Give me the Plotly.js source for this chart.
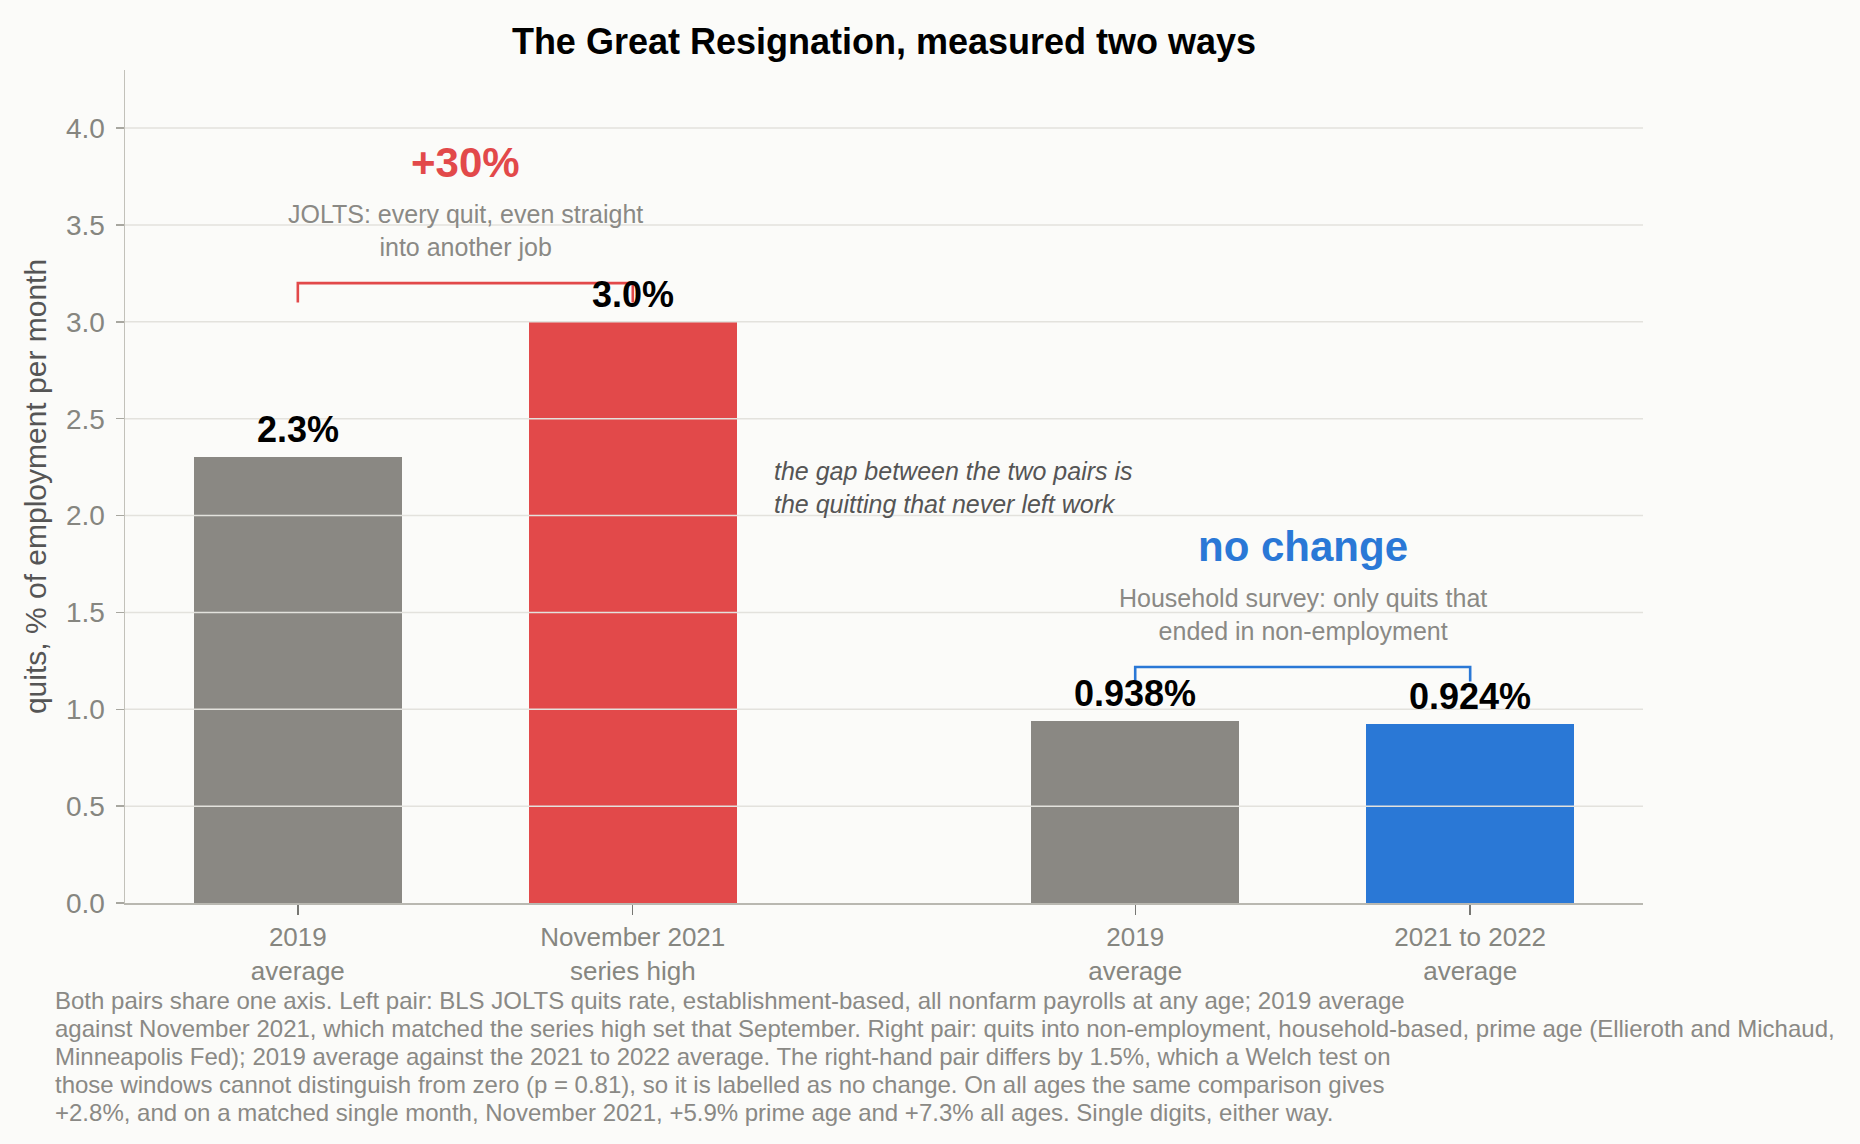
<!DOCTYPE html>
<html>
<head>
<meta charset="utf-8">
<script src="https://cdn.plot.ly/plotly-3.0.1.min.js"></script>
<style>
  html, body { margin: 0; padding: 0; background: #fbfbf9; }
  #chart { width: 1860px; height: 1144px; }
</style>
</head>
<body>
<div id="chart"></div>
<script>
// ---- data ----
const categories = ["2019<br>average", "November 2021<br>series high", "2019<br>average", "2021 to 2022<br>average"];
const pairIndex = [0, 0, 1, 1];
const withinPair = [0, 1, 0, 1];
const values = [2.3, 3.0, 0.938, 0.924];
const valueLabels = ["2.3%", "3.0%", "0.938%", "0.924%"];
const yTickValues = [0, 0.5, 1.0, 1.5, 2.0, 2.5, 3.0, 3.5, 4.0];
const yTickLabels = ["0.0", "0.5", "1.0", "1.5", "2.0", "2.5", "3.0", "3.5", "4.0"];
const pairHeadlines = ["+30%", "no change"];
const pairNotes = ["JOLTS: every quit, even straight<br>into another job",
                   "Household survey: only quits that<br>ended in non-employment"];
const gapNote = "the gap between the two pairs is<br>the quitting that never left work";
const titleText = "The Great Resignation, measured two ways";
const yTitle = "quits, % of employment per month";
const footnoteLines = [
  "Both pairs share one axis. Left pair: BLS JOLTS quits rate, establishment-based, all nonfarm payrolls at any age; 2019 average",
  "against November 2021, which matched the series high set that September. Right pair: quits into non-employment, household-based, prime age (Ellieroth and Michaud,",
  "Minneapolis Fed); 2019 average against the 2021 to 2022 average. The right-hand pair differs by 1.5%, which a Welch test on",
  "those windows cannot distinguish from zero (p = 0.81), so it is labelled as no change. On all ages the same comparison gives",
  "+2.8%, and on a matched single month, November 2021, +5.9% prime age and +7.3% all ages. Single digits, either way."
];

// ---- style ----
const GRAY = "#8a8883", RED = "#e2494a", BLUE = "#2a78d6";
const barColors = [GRAY, RED, GRAY, BLUE];
const pairColors = [RED, BLUE];
const FONT = "Liberation Sans, Arial, Helvetica, sans-serif";
const PAIR_GAP = 2.5;
const PLOT_TOP = 70, PLOT_H = 833;

const xPos = pairIndex.map((p, i) => p * PAIR_GAP + withinPair[i]);

const trace = {
  type: "bar",
  x: xPos,
  y: values,
  width: 0.62,
  marker: { color: barColors, line: { width: 0 } },
  hoverinfo: "skip",
  showlegend: false
};

const shapes = [];
// gridlines drawn above bars
yTickValues.filter(v => v > 0).forEach(v => {
  shapes.push({ type: "line", xref: "paper", x0: 0, x1: 1, yref: "y", y0: v, y1: v,
    layer: "above", line: { color: "#e3e2dd", width: 1.5 } });
});
// brackets
[0, 1].forEach(p => {
  const idx = pairIndex.map((q, i) => q === p ? i : -1).filter(i => i >= 0);
  const xa = xPos[idx[0]], xb = xPos[idx[1]];
  const top = Math.max(values[idx[0]], values[idx[1]]);
  const yTop = top + (p === 0 ? 0.20 : 0.28);
  const yLeg = yTop - (p === 0 ? 0.10 : 0.075);
  shapes.push({ type: "path", xref: "x", yref: "y", layer: "above",
    path: `M ${xa},${yLeg} L ${xa},${yTop} L ${xb},${yTop} L ${xb},${yLeg}`,
    line: { color: pairColors[p], width: 2.6 } });
});

const annotations = [];
// value labels
values.forEach((v, i) => {
  annotations.push({ x: xPos[i], y: v, xref: "x", yref: "y", text: valueLabels[i],
    showarrow: false, xanchor: "center", yanchor: "bottom", yshift: 5,
    font: { family: FONT, size: 36, color: "#000000", weight: "bold" } });
});
// pair headlines and notes
const headY = [3.82, 1.84];
const noteY = [3.47, 1.49];
[0, 1].forEach(p => {
  const idx = pairIndex.map((q, i) => q === p ? i : -1).filter(i => i >= 0);
  const xm = (xPos[idx[0]] + xPos[idx[1]]) / 2;
  annotations.push({ x: xm, y: headY[p], xref: "x", yref: "y", text: "<b>" + pairHeadlines[p] + "</b>",
    showarrow: false, xanchor: "center", yanchor: "middle",
    font: { family: FONT, size: 42, color: pairColors[p] } });
  annotations.push({ x: xm, y: noteY[p], xref: "x", yref: "y", text: pairNotes[p],
    showarrow: false, xanchor: "center", yanchor: "middle", align: "center",
    font: { family: FONT, size: 25, color: "#8a8985" } });
});
// gap note
annotations.push({ x: 1.417, y: 2.145, xref: "x", yref: "y", text: "<i>" + gapNote + "</i>",
  showarrow: false, xanchor: "left", yanchor: "middle", align: "left",
  font: { family: FONT, size: 25, color: "#555555" } });
// footnote, one annotation per line for tight leading
const footY0 = 1000, footStep = 28.2;
footnoteLines.forEach((line, k) => {
  const py = footY0 + k * footStep;
  annotations.push({ x: -0.0471, y: (PLOT_TOP + PLOT_H - py) / PLOT_H, xref: "paper", yref: "paper",
    text: line, showarrow: false, xanchor: "left", yanchor: "middle", align: "left",
    borderpad: 0,
    font: { family: FONT, size: 24, color: "#8a8985" } });
});

const layout = {
  width: 1860, height: 1144,
  paper_bgcolor: "#fbfbf9", plot_bgcolor: "#fbfbf9",
  margin: { l: 125, r: 217, t: PLOT_TOP, b: 1144 - PLOT_TOP - PLOT_H, pad: 0 },
  font: { family: FONT, color: "#868680" },
  title: { text: "<b>" + titleText + "</b>", x: 0.5, xref: "paper", xanchor: "center",
    y: 1 - 41.5 / 1144, yref: "container", yanchor: "middle",
    font: { family: FONT, size: 36, color: "#000000" } },
  xaxis: {
    range: [-0.516, 4.016], tickmode: "array", tickvals: xPos, ticktext: categories,
    showgrid: false, zeroline: false, showline: true, linecolor: "#b9b8b1", linewidth: 1.6,
    ticks: "outside", ticklen: 10, tickwidth: 1.4, tickcolor: "#777773",
    tickfont: { family: FONT, size: 26, color: "#868680" }, fixedrange: true
  },
  yaxis: {
    range: [0, 4.3], tickmode: "array", tickvals: yTickValues, ticktext: yTickLabels,
    showgrid: false, zeroline: false, showline: true, linecolor: "#c2c1ba", linewidth: 1.5,
    ticks: "outside", ticklen: 8, tickwidth: 1.4, tickcolor: "#a8a7a0",
    ticklabelstandoff: 5,
    tickfont: { family: FONT, size: 28, color: "#868680" },
    title: { text: yTitle, font: { family: FONT, size: 30, color: "#555555" }, standoff: 10 },
    fixedrange: true
  },
  shapes: shapes,
  annotations: annotations,
  bargap: 0
};

Plotly.newPlot("chart", [trace], layout, { displayModeBar: false, staticPlot: true });
</script>
</body>
</html>
